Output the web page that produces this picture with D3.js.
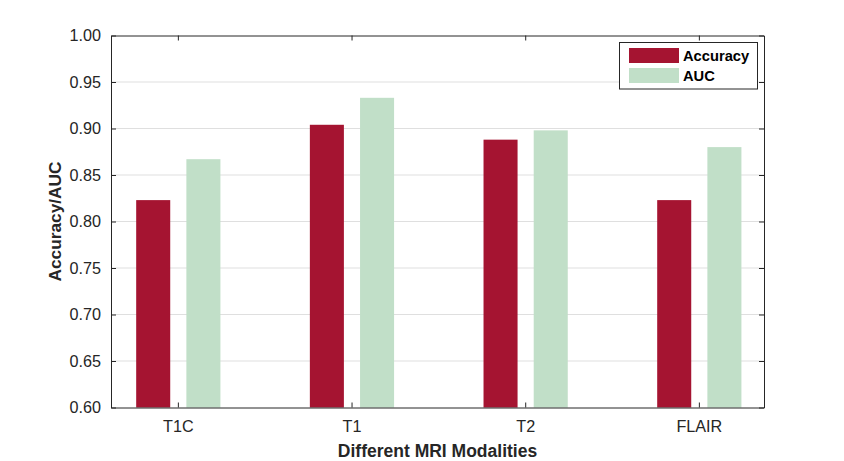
<!DOCTYPE html>
<html><head><meta charset="utf-8">
<script src="https://cdn.jsdelivr.net/npm/d3@7"></script>
<style>body{margin:0;background:#fff;}svg{display:block;font-family:"Liberation Sans",Arial,sans-serif;}</style>
</head><body><svg id="c" width="844" height="461"></svg>
<script>
const categories = ["T1C", "T1", "T2", "FLAIR"];
const seriesNames = ["Accuracy", "AUC"];
const accuracy = [0.823, 0.904, 0.888, 0.823];
const auc = [0.867, 0.933, 0.898, 0.880];
const yTicks = [0.60, 0.65, 0.70, 0.75, 0.80, 0.85, 0.90, 0.95, 1.00];
const colors = ["#A51431", "#C1DFC8"];

const svg = d3.select("#c");
const L = 111, R = 764, T = 35.5, B = 407.5;
const x = d3.scaleLinear().domain([0.615, 4.375]).range([L, R]);
const y = d3.scaleLinear().domain([0.6, 1.0]).range([B, T]);
const barW = x(0.196) - x(0);
const offsets = [-0.142, 0.147];
const txt = "#262626";

// grid
svg.append("g").selectAll("line").data(yTicks.slice(1, -1)).join("line")
  .attr("x1", L).attr("x2", R).attr("y1", d => y(d)).attr("y2", d => y(d))
  .attr("stroke", "#dfdfdf").attr("stroke-width", 1);

// bars
const series = [accuracy, auc];
series.forEach((vals, si) => {
  svg.append("g").selectAll("rect").data(vals).join("rect")
    .attr("x", (d, i) => x(i + 1 + offsets[si]) - barW / 2)
    .attr("width", barW)
    .attr("y", d => y(d))
    .attr("height", d => B - y(d))
    .attr("fill", colors[si]);
});

// axes
const yAxis = d3.axisLeft(y).tickValues(yTicks).tickFormat(d3.format(".2f")).tickSizeInner(-5).tickSizeOuter(0).tickPadding(10);
const gy = svg.append("g").attr("transform", `translate(${L},0)`).call(yAxis);
gy.selectAll("text").attr("font-size", 16.2).attr("fill", txt);
gy.selectAll("line").attr("stroke", txt);
gy.select(".domain").attr("stroke", txt);

const yAxisR = d3.axisRight(y).tickValues(yTicks).tickFormat("").tickSizeInner(-5).tickSizeOuter(0);
const gyr = svg.append("g").attr("transform", `translate(${R},0)`).call(yAxisR);
gyr.selectAll("line").attr("stroke", txt);
gyr.select(".domain").attr("stroke", txt);

const xAxis = d3.axisBottom(x).tickValues([1, 2, 3, 4]).tickFormat((d, i) => categories[i]).tickSizeInner(-5).tickSizeOuter(0).tickPadding(13);
const gx = svg.append("g").attr("transform", `translate(0,${B})`).call(xAxis);
gx.selectAll("text").attr("font-size", 16.2).attr("fill", txt);
gx.selectAll("line").attr("stroke", txt);
gx.select(".domain").attr("stroke", txt);

const xAxisT = d3.axisTop(x).tickValues([1, 2, 3, 4]).tickFormat("").tickSizeInner(-5).tickSizeOuter(0);
const gxt = svg.append("g").attr("transform", `translate(0,${T})`).call(xAxisT);
gxt.selectAll("line").attr("stroke", txt);
gxt.select(".domain").attr("stroke", txt);

// axis titles
svg.append("text").attr("x", (L + R) / 2).attr("y", 456.5).attr("text-anchor", "middle")
  .attr("font-size", 17.5).attr("font-weight", "bold").attr("fill", txt).text("Different MRI Modalities");
svg.append("text").attr("transform", `translate(61,${(T + B) / 2}) rotate(-90)`).attr("text-anchor", "middle")
  .attr("font-size", 17.3).attr("font-weight", "bold").attr("fill", txt).text("Accuracy/AUC");

// legend
const lg = svg.append("g");
lg.append("rect").attr("x", 619.5).attr("y", 42.5).attr("width", 138).attr("height", 46.5)
  .attr("fill", "#fff").attr("stroke", txt).attr("stroke-width", 1);
seriesNames.forEach((n, i) => {
  lg.append("rect").attr("x", 629).attr("y", 48 + i * 20).attr("width", 50).attr("height", 15).attr("fill", colors[i]);
  lg.append("text").attr("x", 683).attr("y", 60.5 + i * 20).attr("font-size", 14.7).attr("font-weight", "bold")
    .attr("fill", "#000").text(n);
});
</script></body></html>
